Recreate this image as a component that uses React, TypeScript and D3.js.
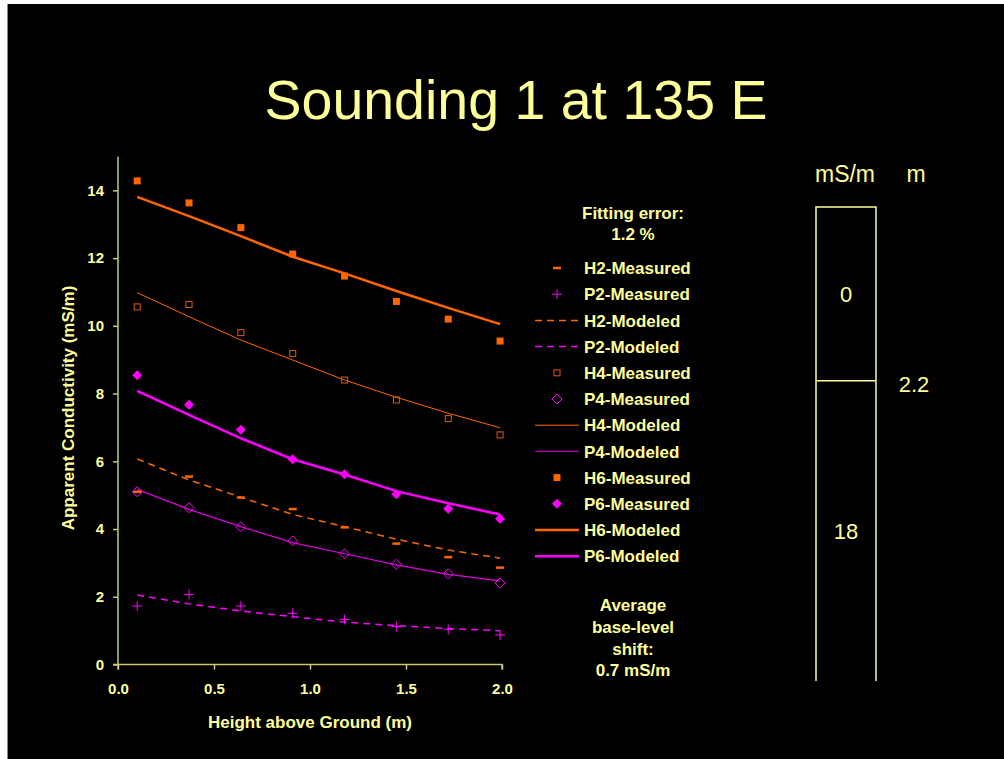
import React from "react";
import * as d3 from "d3";

const heights = [0.1, 0.37, 0.64, 0.91, 1.18, 1.45, 1.72, 1.99];

const h2Measured = [5.1, 5.55, 4.93, 4.59, 4.05, 3.57, 3.17, 2.86];
const p2Measured = [1.73, 2.07, 1.73, 1.51, 1.33, 1.12, 1.04, 0.87];
const h2Modeled = [6.07, 5.45, 4.94, 4.43, 4.07, 3.7, 3.38, 3.14];
const p2Modeled = [2.05, 1.79, 1.58, 1.41, 1.25, 1.15, 1.06, 1.0];
const h4Measured = [10.56, 10.63, 9.8, 9.18, 8.4, 7.81, 7.26, 6.78];
const p4Measured = [5.1, 4.63, 4.07, 3.65, 3.27, 2.96, 2.68, 2.41];
const h4Modeled = [10.98, 10.27, 9.58, 8.99, 8.4, 7.89, 7.42, 6.99];
const p4Modeled = [5.17, 4.58, 4.07, 3.6, 3.27, 2.94, 2.66, 2.47];
const h6Measured = [14.28, 13.63, 12.9, 12.12, 11.47, 10.72, 10.2, 9.55];
const p6Measured = [8.54, 7.67, 6.93, 6.06, 5.62, 5.03, 4.6, 4.3];
const h6Modeled = [13.81, 13.24, 12.65, 12.04, 11.55, 11.03, 10.53, 10.05];
const p6Modeled = [8.08, 7.37, 6.68, 6.06, 5.61, 5.12, 4.76, 4.43];

const xTicks = [0, 0.5, 1.0, 1.5, 2.0];
const yTicks = [0, 2, 4, 6, 8, 10, 12, 14];

const fitNotes = ["Fitting error:", "1.2 %"];
const shiftNotes = ["Average", "base-level", "shift:", "0.7 mS/m"];

// layered model on the right
const layerDepths = [0, 2.2];
const layerConds = ["0", "18"];
const depthMax = 6;

const ORANGE = "#ff6600";
const DARK_ORANGE = "#e05a10";
const MAGENTA = "#ff00ff";
const PURPLE = "#b000b0";
const YELLOW = "#ffff99";
const AXIS = "#c8c878";
const FONT = "'Liberation Sans', Arial, sans-serif";

type Marker = "dash" | "plus" | "square" | "openSquare" | "diamond" | "openDiamond";
type Series = {
  name: string;
  values: number[];
  color: string;
  marker?: Marker;
  width?: number;
  dash?: string;
};

const series: Series[] = [
  { name: "H2-Measured", values: h2Measured, color: ORANGE, marker: "dash" },
  { name: "P2-Measured", values: p2Measured, color: MAGENTA, marker: "plus" },
  { name: "H2-Modeled", values: h2Modeled, color: ORANGE, width: 1.5, dash: "7,5" },
  { name: "P2-Modeled", values: p2Modeled, color: MAGENTA, width: 1.5, dash: "7,5" },
  { name: "H4-Measured", values: h4Measured, color: DARK_ORANGE, marker: "openSquare" },
  { name: "P4-Measured", values: p4Measured, color: MAGENTA, marker: "openDiamond" },
  { name: "H4-Modeled", values: h4Modeled, color: ORANGE, width: 1 },
  { name: "P4-Modeled", values: p4Modeled, color: PURPLE, width: 1.2 },
  { name: "H6-Measured", values: h6Measured, color: ORANGE, marker: "square" },
  { name: "P6-Measured", values: p6Measured, color: MAGENTA, marker: "diamond" },
  { name: "H6-Modeled", values: h6Modeled, color: ORANGE, width: 2.5 },
  { name: "P6-Modeled", values: p6Modeled, color: MAGENTA, width: 2.5 },
];

function drawMarker(g: any, kind: Marker, cx: number, cy: number, color: string) {
  if (kind === "dash") {
    g.append("line").attr("x1", cx - 4).attr("x2", cx + 4).attr("y1", cy).attr("y2", cy)
      .attr("stroke", color).attr("stroke-width", 2.5);
  } else if (kind === "plus") {
    g.append("path").attr("d", `M${cx - 5},${cy}H${cx + 5}M${cx},${cy - 5}V${cy + 5}`)
      .attr("stroke", color).attr("stroke-width", 1);
  } else if (kind === "square") {
    g.append("rect").attr("x", cx - 3.5).attr("y", cy - 3.5).attr("width", 7).attr("height", 7)
      .attr("fill", color);
  } else if (kind === "openSquare") {
    g.append("rect").attr("x", cx - 3).attr("y", cy - 3).attr("width", 6).attr("height", 6)
      .attr("fill", "none").attr("stroke", color).attr("stroke-width", 1);
  } else if (kind === "diamond") {
    g.append("path").attr("d", `M${cx},${cy - 5}L${cx + 5},${cy}L${cx},${cy + 5}L${cx - 5},${cy}Z`)
      .attr("fill", color);
  } else {
    g.append("path").attr("d", `M${cx},${cy - 5}L${cx + 5},${cy}L${cx},${cy + 5}L${cx - 5},${cy}Z`)
      .attr("fill", "none").attr("stroke", color).attr("stroke-width", 1);
  }
}

const App = () => {
  const ref = React.useRef<SVGSVGElement>(null);

  React.useEffect(() => {
    const svg = d3.select(ref.current);
    svg.selectAll("*").remove();

    svg.append("rect").attr("x", 8).attr("y", 4).attr("width", 1004).attr("height", 759).attr("fill", "#000");
    svg.append("line").attr("x1", 7.5).attr("x2", 7.5).attr("y1", 4).attr("y2", 759)
      .attr("stroke", "#888").attr("stroke-width", 1);

    svg.append("text").attr("x", 516).attr("y", 119).attr("text-anchor", "middle")
      .attr("font-family", FONT).attr("font-size", 55.5).attr("fill", YELLOW)
      .text("Sounding 1 at 135 E");

    const x = d3.scaleLinear().domain([0, 2]).range([118, 502]);
    const y = d3.scaleLinear().domain([0, 15]).range([664.5, 156.5]);

    // axes
    const gx = svg.append("g").attr("transform", `translate(0,${y(0)})`)
      .call(d3.axisBottom(x).tickValues(xTicks).tickSize(5).tickFormat(d3.format(".1f")));
    const gy = svg.append("g").attr("transform", `translate(${x(0)},0)`)
      .call(d3.axisLeft(y).tickValues(yTicks).tickSize(5).tickFormat(d3.format("d")));
    [gx, gy].forEach((g) => {
      g.select(".domain").attr("stroke", AXIS).attr("stroke-width", 1.5);
      g.selectAll(".tick line").attr("stroke", AXIS).attr("stroke-width", 1.5);
      g.selectAll(".tick text").attr("fill", YELLOW).attr("font-family", FONT)
        .attr("font-weight", "bold").attr("font-size", 15);
    });
    gx.select(".domain").attr("d", `M${x(0)},5V0H${x(2)}V5`);
    gy.select(".domain").attr("d", `M-5,${y(0)}H0V${y(15)}`);
    gx.selectAll(".tick text").attr("dy", "1.45em");
    gy.selectAll(".tick text").attr("x", -14);

    svg.append("text").attr("x", 310).attr("y", 728).attr("text-anchor", "middle")
      .attr("font-family", FONT).attr("font-weight", "bold").attr("font-size", 17).attr("fill", YELLOW)
      .text("Height above Ground (m)");
    svg.append("text").attr("transform", "translate(74,408) rotate(-90)").attr("text-anchor", "middle")
      .attr("font-family", FONT).attr("font-weight", "bold").attr("font-size", 17).attr("fill", YELLOW)
      .text("Apparent Conductivity (mS/m)");

    // lines first, then markers
    const line = d3.line<number>().x((_, i) => x(heights[i])).y((d) => y(d));
    const plot = svg.append("g");
    series.filter((s) => !s.marker).forEach((s) => {
      plot.append("path").attr("d", line(s.values)).attr("fill", "none")
        .attr("stroke", s.name === "P4-Modeled" ? "#e000e0" : s.color).attr("stroke-width", s.width || 1)
        .attr("stroke-dasharray", s.dash || null);
    });
    series.filter((s) => s.marker).forEach((s) => {
      s.values.forEach((v, i) => drawMarker(plot, s.marker as Marker, x(heights[i]), y(v), s.color));
    });

    // legend
    const txt = (g: any, tx: number, ty: number, t: string, anchor = "start") =>
      g.append("text").attr("x", tx).attr("y", ty).attr("dy", "0.36em").attr("text-anchor", anchor)
        .attr("font-family", FONT).attr("font-weight", "bold").attr("font-size", 17).attr("fill", YELLOW)
        .text(t);

    const legend = svg.append("g");
    fitNotes.forEach((t, i) => txt(legend, 633, 213 + i * 21, t, "middle"));
    series.forEach((s, i) => {
      const ly = 268 + i * 26.2;
      if (s.marker) drawMarker(legend, s.marker, 557, ly, s.color);
      else
        legend.append("line").attr("x1", 535).attr("x2", 579).attr("y1", ly).attr("y2", ly)
          .attr("stroke", s.color).attr("stroke-width", s.width || 1)
          .attr("stroke-dasharray", s.dash || null);
      txt(legend, 584, ly, s.name);
    });
    shiftNotes.forEach((t, i) => txt(legend, 633, 605 + i * 21.7, t, "middle"));

    // layered model
    const d = d3.scaleLinear().domain([0, depthMax]).range([207, 681]);
    const model = svg.append("g");
    const left = 816, right = 876;
    model.append("path")
      .attr("d", `M${left},${d(depthMax)}V${d(0)}H${right}V${d(depthMax)}`)
      .attr("fill", "none").attr("stroke", YELLOW).attr("stroke-width", 1.5);
    layerDepths.slice(1).forEach((z) => {
      model.append("line").attr("x1", left).attr("x2", right).attr("y1", d(z)).attr("y2", d(z))
        .attr("stroke", YELLOW).attr("stroke-width", 1.5);
      model.append("text").attr("x", 914).attr("y", d(z) + 11).attr("text-anchor", "middle")
        .attr("font-family", FONT).attr("font-size", 22).attr("fill", YELLOW).text(String(z));
    });
    layerConds.forEach((c, i) => {
      const top = d(layerDepths[i]);
      const bottom = i + 1 < layerDepths.length ? d(layerDepths[i + 1]) : d(depthMax);
      model.append("text").attr("x", (left + right) / 2).attr("y", (top + bottom) / 2 + 8)
        .attr("text-anchor", "middle").attr("font-family", FONT).attr("font-size", 22)
        .attr("fill", YELLOW).text(c);
    });
    model.append("text").attr("x", 845).attr("y", 182).attr("text-anchor", "middle")
      .attr("font-family", FONT).attr("font-size", 23).attr("fill", YELLOW).text("mS/m");
    model.append("text").attr("x", 916).attr("y", 182).attr("text-anchor", "middle")
      .attr("font-family", FONT).attr("font-size", 23).attr("fill", YELLOW).text("m");
  }, []);

  return (
    <svg
      ref={ref}
      width={1004}
      height={759}
      style={{ position: "absolute", left: 0, top: 0, display: "block" }}
    />
  );
};

export default App;
